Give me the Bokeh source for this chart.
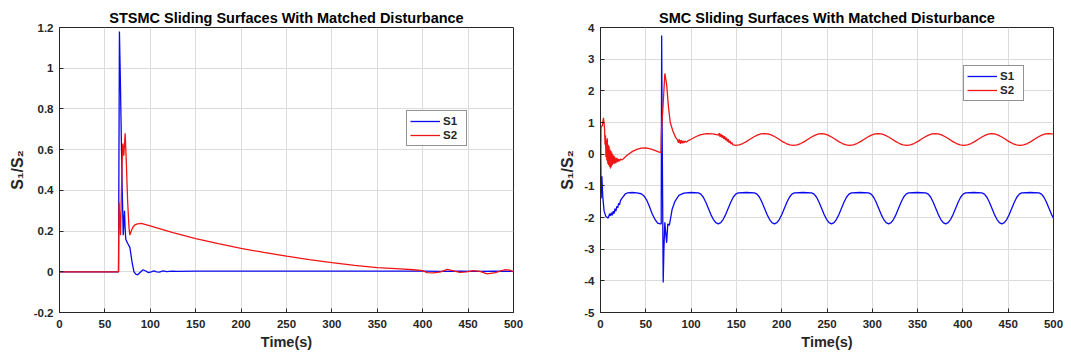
from bokeh.plotting import figure
from bokeh.layouts import row
from bokeh.models import FixedTicker, NumeralTickFormatter, Range1d
from bokeh.embed import file_html
from bokeh.resources import INLINE

# ---------------- data ----------------
x_ticks = [0, 50, 100, 150, 200, 250, 300, 350, 400, 450, 500]
left_y_ticks = [-0.2, 0, 0.2, 0.4, 0.6, 0.8, 1, 1.2]
right_y_ticks = [-5, -4, -3, -2, -1, 0, 1, 2, 3, 4]

left_title = "STSMC Sliding Surfaces With Matched Disturbance"
right_title = "SMC Sliding Surfaces With Matched Disturbance"
series_names = ["S1", "S2"]

# STSMC, S1
left_t_s1 = [0, 65, 65.5, 66, 67, 68, 69, 70.2, 71, 71.6, 72.2, 73, 74, 75, 76.3, 77.5, 78.5, 80,
             82, 84, 86, 89, 92, 95, 98, 101, 104, 107, 110, 114, 118, 124, 130, 150, 200, 300,
             400, 420, 440, 460, 480, 500]
left_s1 = [0, 0, 0.6, 1.18, 0.95, 0.68, 0.42, 0.18, 0.26, 0.30, 0.22, 0.16, 0.15, 0.14, 0.13, 0.12,
           0.09, 0.045, 0.0, -0.012, -0.015, -0.002, 0.01, 0.004, -0.004, 0.0, 0.005, 0.0, -0.002,
           0.004, 0.001, 0.003, 0.002, 0.003, 0.003, 0.003, 0.003, 0.002, 0.003, 0.002, 0.003, 0.002]

# STSMC, S2
left_t_s2 = [0, 65, 65.3, 65.6, 67.2, 68, 69, 69.7, 70.8, 71.5, 72.3, 73.5, 75, 76.5, 77.5, 79, 81,
             83, 86, 90, 95, 100, 110, 125, 150, 175, 200, 225, 250, 275, 300, 325, 350, 360, 375,
             390, 400, 405, 412, 420, 427, 434, 441, 448, 456, 463, 471, 480, 490, 496, 500]
left_s2 = [0, 0, 0.2, 0.34, 0.18, 0.35, 0.55, 0.63, 0.57, 0.62, 0.68, 0.55, 0.35, 0.22, 0.18, 0.2,
           0.22, 0.23, 0.235, 0.238, 0.232, 0.225, 0.212, 0.192, 0.163, 0.138, 0.115, 0.095, 0.077,
           0.06, 0.045, 0.032, 0.02, 0.018, 0.014, 0.01, 0.006, -0.004, -0.005, 0.0, 0.012, 0.004,
           -0.003, 0.0, 0.006, 0.002, -0.01, -0.004, 0.01, 0.008, 0.0]

# SMC, S1
right_t_s1 = [0, 0.7, 1.5, 2.5, 4, 6, 8.5, 10, 11, 12, 13, 14, 15, 16, 17, 18, 19, 20, 21, 22, 24,
              27.5, 30, 35, 40, 45, 48, 51, 54, 57, 60, 63, 66, 67, 67.5, 68, 69.2, 70, 71, 72, 73,
              74.3, 76, 79, 82, 86.5, 92, 100,
              108, 110.75, 113.5, 116.25, 119, 121.75, 124.5, 127.25, 130, 132.75, 135.5, 138.25,
              141, 143.75, 146.5, 149.25, 152, 161,
              170, 172.75, 175.5, 178.25, 181, 183.75, 186.5, 189.25, 192, 194.75, 197.5, 200.25,
              203, 205.75, 208.5, 211.25, 214, 223.5,
              233, 235.75, 238.5, 241.25, 244, 246.75, 249.5, 252.25, 255, 257.75, 260.5, 263.25,
              266, 268.75, 271.5, 274.25, 277, 286.5,
              296, 298.75, 301.5, 304.25, 307, 309.75, 312.5, 315.25, 318, 320.75, 323.5, 326.25,
              329, 331.75, 334.5, 337.25, 340, 349.5,
              359, 361.75, 364.5, 367.25, 370, 372.75, 375.5, 378.25, 381, 383.75, 386.5, 389.25,
              392, 394.75, 397.5, 400.25, 403, 412,
              421, 423.75, 426.5, 429.25, 432, 434.75, 437.5, 440.25, 443, 445.75, 448.5, 451.25,
              454, 456.75, 459.5, 462.25, 465, 474.5,
              484, 486.75, 489.5, 492.25, 495, 497.75, 500]
right_s1 = [0.8, -1.4, -0.7, -1.35, -1.8, -1.97, -2.02, -1.88, -1.95, -1.85, -1.93, -1.8, -1.88,
            -1.72, -1.8, -1.65, -1.7, -1.55, -1.6, -1.47, -1.38, -1.25, -1.22, -1.21, -1.22, -1.25,
            -1.32, -1.45, -1.65, -1.88, -2.05, -2.18, -2.2, -2.2, 3.75, 1.0, -4.05, -3.0, -2.15,
            -2.5, -2.8, -2.2, -2.25, -1.75, -1.5, -1.3, -1.23, -1.21,
            -1.22, -1.26, -1.36, -1.52, -1.71, -1.90, -2.056, -2.163, -2.2, -2.163, -2.056, -1.90,
            -1.71, -1.52, -1.36, -1.26, -1.22, -1.21,
            -1.22, -1.26, -1.36, -1.52, -1.71, -1.90, -2.056, -2.163, -2.2, -2.163, -2.056, -1.90,
            -1.71, -1.52, -1.36, -1.26, -1.22, -1.21,
            -1.22, -1.26, -1.36, -1.52, -1.71, -1.90, -2.056, -2.163, -2.2, -2.163, -2.056, -1.90,
            -1.71, -1.52, -1.36, -1.26, -1.22, -1.21,
            -1.22, -1.26, -1.36, -1.52, -1.71, -1.90, -2.056, -2.163, -2.2, -2.163, -2.056, -1.90,
            -1.71, -1.52, -1.36, -1.26, -1.22, -1.21,
            -1.22, -1.26, -1.36, -1.52, -1.71, -1.90, -2.056, -2.163, -2.2, -2.163, -2.056, -1.90,
            -1.71, -1.52, -1.36, -1.26, -1.22, -1.21,
            -1.22, -1.26, -1.36, -1.52, -1.71, -1.90, -2.056, -2.163, -2.2, -2.163, -2.056, -1.90,
            -1.71, -1.52, -1.36, -1.26, -1.22, -1.21,
            -1.22, -1.26, -1.36, -1.52, -1.71, -1.90, -2.02]

# SMC, S2
right_t_s2 = [0, 0.5, 2, 3.3, 4.5, 5, 5.5, 6, 6.5, 7, 7.5, 8, 8.5, 9, 9.5, 10, 10.5, 11, 11.5, 12,
              12.5, 13, 13.5, 14, 15, 15.5, 16, 17, 18, 19, 20, 21, 22, 24, 27, 30, 35, 40, 45, 50,
              55, 60, 64, 66.8, 67.2, 69, 71, 73, 75, 77, 80, 83, 85, 86, 87, 88, 89, 90, 91, 92,
              93, 95, 97, 100, 105, 110, 117, 124, 128, 130, 131, 132, 133, 134, 135, 136, 137, 138,
              139, 140, 141, 142, 143, 144, 145, 146, 149, 153, 157, 161, 165, 169, 173, 177, 181,
              185, 189, 193, 197, 201, 205, 209, 213, 217, 221, 225, 229, 233, 237, 241, 244, 247,
              251, 255, 259, 263, 267, 271, 275, 279, 283, 287, 291, 295, 299, 303, 306.5, 310, 314,
              318, 322, 326, 330, 334, 338, 342, 346, 350, 354, 358, 362, 366, 369.5, 373, 377, 381,
              385, 389, 393, 397, 401, 405, 409, 413, 417, 421, 425, 429, 432, 435, 439, 443, 447,
              451, 455, 459, 463, 467, 471, 475, 479, 483, 487, 491, 494.5, 498, 500]
right_s2 = [0.0, 0.85, 0.9, 1.15, 0.8, 0.3, 0.6, -0.1, 0.45, -0.2, 0.5, -0.3, 0.3, -0.35, 0.25, -0.4,
            0.15, -0.45, 0.1, -0.4, 0.05, -0.35, 0.0, -0.3, -0.05, -0.3, -0.1, -0.28, -0.12, -0.25,
            -0.15, -0.22, -0.16, -0.18, -0.1, -0.02, 0.08, 0.15, 0.19, 0.2, 0.17, 0.12, 0.07, 0.05,
            0.7, 1.5, 2.55, 2.2, 1.5, 1.0, 0.72, 0.52, 0.45, 0.36, 0.47, 0.33, 0.44, 0.34, 0.42,
            0.35, 0.41, 0.38, 0.43, 0.47, 0.55, 0.61, 0.65, 0.64, 0.62, 0.6, 0.66, 0.55, 0.64,
            0.52, 0.6, 0.48, 0.57, 0.44, 0.52, 0.4, 0.47, 0.36, 0.42, 0.32, 0.37, 0.3, 0.28, 0.295,
            0.336, 0.397, 0.47, 0.541, 0.60, 0.639, 0.65, 0.639, 0.60, 0.541, 0.47, 0.397, 0.336,
            0.295, 0.28, 0.295, 0.336, 0.397, 0.47, 0.541, 0.60, 0.639, 0.65, 0.639, 0.60, 0.541,
            0.47, 0.397, 0.336, 0.295, 0.28, 0.295, 0.336, 0.397, 0.47, 0.541, 0.60, 0.639, 0.65,
            0.639, 0.60, 0.541, 0.47, 0.397, 0.336, 0.295, 0.28, 0.295, 0.336, 0.397, 0.47, 0.541,
            0.60, 0.639, 0.65, 0.639, 0.60, 0.541, 0.47, 0.397, 0.336, 0.295, 0.28, 0.295, 0.336,
            0.397, 0.47, 0.541, 0.60, 0.639, 0.65, 0.639, 0.60, 0.541, 0.47, 0.397, 0.336, 0.295,
            0.28, 0.295, 0.336, 0.397, 0.47, 0.541, 0.60, 0.639, 0.65, 0.64, 0.635]

# ---------------- styling ----------------
FONT = "Liberation Sans"
AX_COLOR = "#262626"
BLUE = "#0a0af0"
RED = "#f01414"


def make_fig(title, width, border_left, border_right, y_lo, y_hi, y_ticks,
             t1, s1, t2, s2, legend_xy):
    p = figure(width=width, height=356, output_backend="svg", toolbar_location=None,
               x_range=Range1d(0, 500), y_range=Range1d(y_lo, y_hi),
               min_border_left=border_left, min_border_right=border_right,
               min_border_top=27, min_border_bottom=44)
    p.title.text = title
    p.title.align = "center"
    p.title.text_font = FONT
    p.title.text_font_size = "14.5px"
    p.title.text_font_style = "bold"
    p.title.text_color = "#000000"
    p.title.standoff = 3
    p.title.offset = 0

    p.line(t1, s1, color=BLUE, line_width=1.3, legend_label=series_names[0])
    p.line(t2, s2, color=RED, line_width=1.3, legend_label=series_names[1])

    p.xaxis.ticker = FixedTicker(ticks=x_ticks)
    p.yaxis.ticker = FixedTicker(ticks=y_ticks)
    p.xgrid.ticker = FixedTicker(ticks=x_ticks)
    p.ygrid.ticker = FixedTicker(ticks=y_ticks)
    p.xaxis.formatter = NumeralTickFormatter(format="0.[0]")
    p.yaxis.formatter = NumeralTickFormatter(format="0.[0]")
    p.grid.grid_line_color = "#dcdcdc"
    p.grid.grid_line_width = 1

    for ax in (p.xaxis[0], p.yaxis[0]):
        ax.axis_line_color = AX_COLOR
        ax.major_tick_line_color = AX_COLOR
        ax.major_tick_in = 4
        ax.major_tick_out = 0
        ax.minor_tick_line_color = None
        ax.major_label_text_font = FONT
        ax.major_label_text_font_size = "11.5px"
        ax.major_label_text_font_style = "bold"
        ax.major_label_text_color = AX_COLOR
        ax.axis_label_text_font = FONT
        ax.axis_label_text_font_style = "bold"
        ax.axis_label_text_color = AX_COLOR
    p.xaxis.axis_label = "Time(s)"
    p.xaxis.axis_label_text_font_size = "14.5px"
    p.yaxis.axis_label = "S\u2081/S\u2082"
    p.yaxis.axis_label_text_font_size = "16px"
    p.xaxis.major_label_standoff = 7
    p.xaxis.axis_label_standoff = 3
    p.yaxis.major_label_standoff = 6
    p.yaxis.axis_label_standoff = 5

    p.outline_line_color = AX_COLOR
    p.outline_line_width = 1
    p.outline_line_alpha = 1
    p.background_fill_color = "white"
    p.border_fill_color = "white"

    lg = p.legend[0]
    lg.location = legend_xy
    lg.glyph_width = 30
    lg.glyph_height = 14
    lg.label_height = 14
    lg.label_standoff = 3
    lg.padding = 3
    lg.spacing = 0
    lg.margin = 0
    lg.label_text_font = FONT
    lg.label_text_font_size = "11.5px"
    lg.label_text_font_style = "bold"
    lg.label_text_color = AX_COLOR
    lg.border_line_color = AX_COLOR
    lg.border_line_width = 1
    lg.background_fill_alpha = 1
    return p


p1 = make_fig(left_title, 556, 59, 43, -0.2, 1.2, left_y_ticks,
              left_t_s1, left_s1, left_t_s2, left_s2, (347, 166))
p2 = make_fig(right_title, 507, 44, 10, -5, 4, right_y_ticks,
              right_t_s1, right_s1, right_t_s2, right_s2, (363, 211))

layout = row(p1, p2)
open("out.html", "w").write(file_html(layout, INLINE))
